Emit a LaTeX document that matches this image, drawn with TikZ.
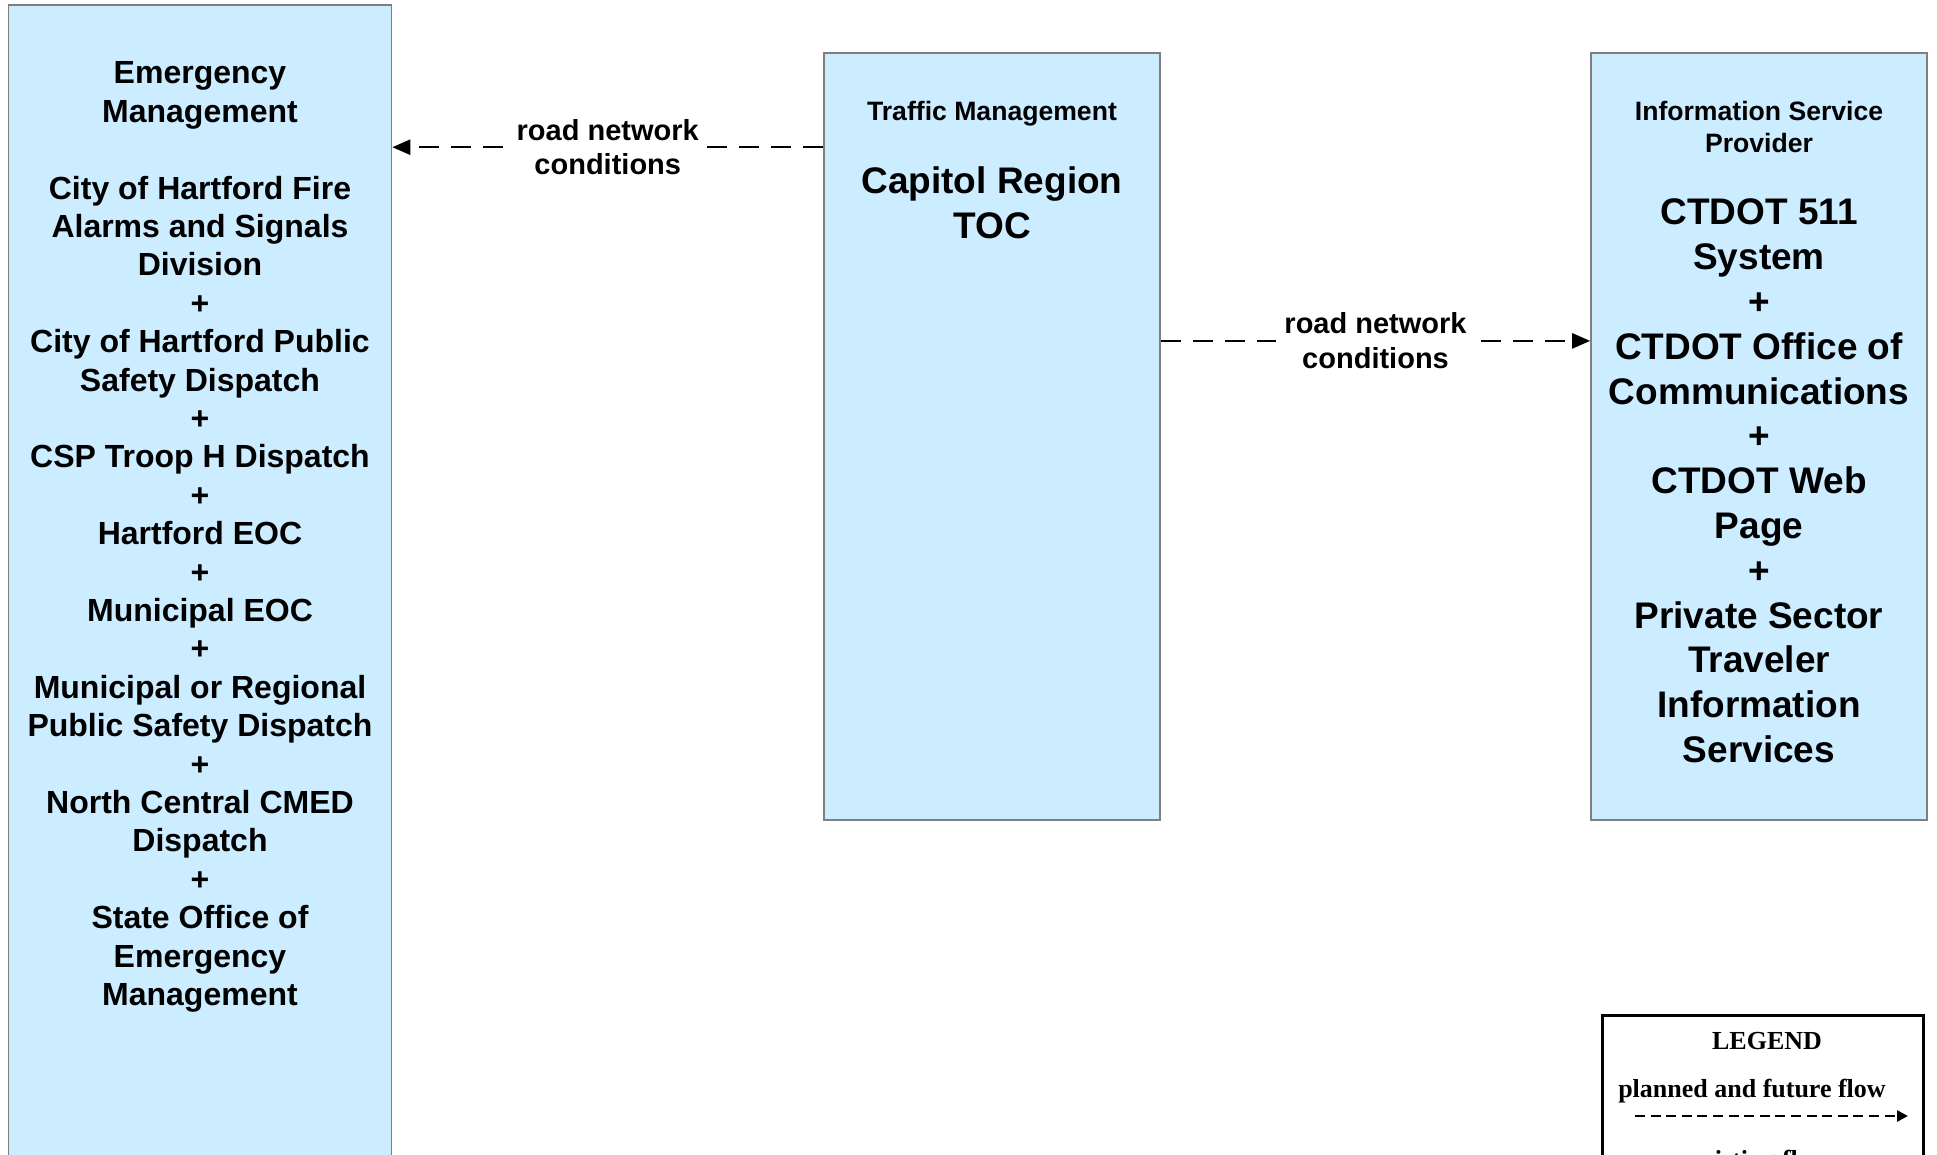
\documentclass[tikz,border=0pt]{standalone}
\usepackage{fontspec}
\setmainfont{Liberation Sans}
\newfontfamily\legfont{Liberation Serif}
\usetikzlibrary{arrows.meta}
\definecolor{boxfill}{HTML}{CCECFF}
\definecolor{boxline}{HTML}{7F7F7F}
\begin{document}
\begin{tikzpicture}[x=0.5pt,y=-0.5pt,
  elem/.style={draw=boxline, line width=0.8pt, fill=boxfill, rectangle, inner sep=0pt, minimum width=168pt},
  cattext/.style={font=\bfseries\fontsize{13.3pt}{16pt}\selectfont, align=center, inner sep=0pt},
  bigtext/.style={font=\bfseries\fontsize{18.5pt}{22.4pt}\selectfont, align=center, inner sep=0pt},
  emtext/.style={font=\bfseries\fontsize{16pt}{19.2pt}\selectfont, align=center, inner sep=0pt},
  flowlbl/.style={font=\bfseries\fontsize{14.5pt}{17.3pt}\selectfont, align=center, fill=white, inner xsep=4pt, inner ysep=0pt},
  flow/.style={line width=1.2pt, dash pattern=on 10pt off 6pt, -{Triangle[length=9pt,width=7.5pt]}},
  legflow/.style={line width=1.3pt, dash pattern=on 5pt off 2.8pt, -{Triangle[length=5.5pt,width=5.5pt]}},
  legtext/.style={font=\legfont\bfseries\fontsize{13pt}{15pt}\selectfont, inner sep=0pt}]
\useasboundingbox (0,0) rectangle (1937,1155);
\fill[white] (0,0) rectangle (1937,1155);
\clip (0,0) rectangle (1937,1155);
% boxes
\node[elem, minimum width=191.5pt, minimum height=585pt] (em) at (200,590) {};
\node[elem, minimum height=383.5pt] (toc) at (992,436.5) {};
\node[elem, minimum height=383.5pt] (isp) at (1759,436.5) {};
\node[draw=black, line width=1.5pt, fill=white, rectangle, inner sep=0pt, minimum width=160.5pt, minimum height=80pt] (leg) at (1762.5,1095) {};
% texts
\node[emtext] (emtxt) at (200,537) {Emergency\\Management\\[19.2pt]City of Hartford Fire\\Alarms and Signals\\Division\\+\\City of Hartford Public\\Safety Dispatch\\+\\CSP Troop H Dispatch\\+\\Hartford EOC\\+\\Municipal EOC\\+\\Municipal or Regional\\Public Safety Dispatch\\+\\North Central CMED\\Dispatch\\+\\State Office of\\Emergency\\Management};
\node[cattext] (toccat) at (992,114) {Traffic Management};
\node[bigtext] (tocname) at (992,202.5) {Capitol Region\\TOC};
\node[cattext] (ispcat) at (1759,127) {Information Service\\Provider};
\node[bigtext] (ispname) at (1759,481) {CTDOT 511\\System\\+\\CTDOT Office of\\Communications\\+\\CTDOT Web\\Page\\+\\Private Sector\\Traveler\\Information\\Services};
% flows
\coordinate (a1) at ([yshift=-47.5pt]toc.north west);
\draw[flow] (a1) -- (a1 -| em.east) node[midway, flowlbl] (lbl1) {road network\\conditions};
\coordinate (a2) at ([yshift=-144.35pt]toc.north east);
\draw[flow] (a2) -- (a2 -| isp.west) node[midway, flowlbl] (lbl2) {road network\\conditions};
% legend
\node[legtext] (legtitle) at (1767,1041) {LEGEND};
\node[legtext] (legplanned) at (1752,1091) {planned and future flow};
\coordinate (la) at (1635,1116);
\coordinate (lb) at (1908,1116);
\draw[legflow] (la) -- (lb);
\node[legtext] (legexisting) at (1760,1162) {existing flow};
\end{tikzpicture}
\end{document}
